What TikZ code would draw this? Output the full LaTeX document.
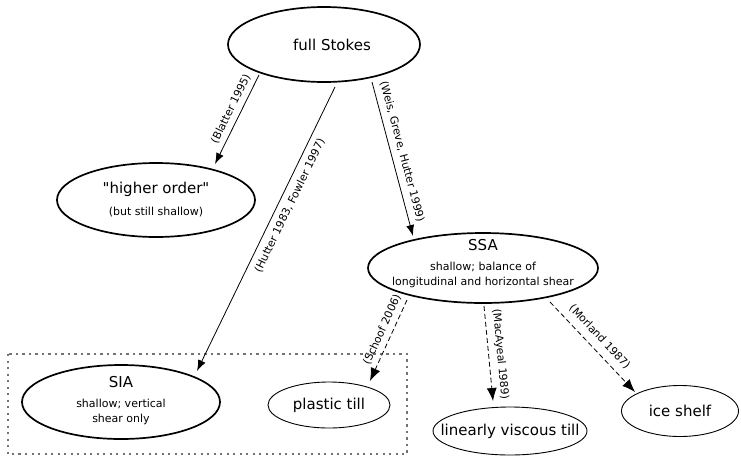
\documentclass[tikz,border=0pt]{standalone}
\usepackage{fontspec}
\setmainfont{DejaVu Sans}
\newfontfamily\dejavu{DejaVu Sans}
\usetikzlibrary{shapes.geometric,arrows.meta,calc}

\newcommand\fbig{\dejavu\fontsize{15}{18}\selectfont}
\newcommand\fsml{\dejavu\fontsize{11}{14}\selectfont}
\newcommand\flab{\dejavu\fontsize{10.8}{12}\selectfont}

\begin{document}
\begin{tikzpicture}[x=1pt,y=-1pt,
  ell/.style={ellipse,draw,inner sep=0pt,outer sep=0pt},
  thickell/.style={ell,line width=1.7pt},
  thinell/.style={ell,line width=0.9pt},
  txt/.style={align=center,font=\fbig,inner sep=0pt},
  conn/.style={line width=0.8pt,-{Latex[length=11pt,width=8pt]}},
  dconn/.style={line width=0.8pt,dash pattern=on 5pt off 3pt,-{Latex[length=13pt,width=10pt]}},
  lab/.style={sloped,font=\flab,inner sep=3pt}
]
\useasboundingbox (0,0) rectangle (741,456);

% grouping box
\draw[gray!90!black, line width=2.2pt, dash pattern=on 2.2pt off 4.3pt] (8,354) rectangle (407,454);

% nodes
\node[thickell, minimum width=192pt, minimum height=75pt,
  label={[txt,xshift=8pt]center:full Stokes}] (fs) at (324,44.5) {};
\node[thickell, minimum width=198pt, minimum height=74pt,
  label={[txt]center:"higher order"\\[4pt]{\fsml (but still shallow)}}] (ho) at (156,200) {};
\node[thickell, minimum width=230pt, minimum height=70pt,
  label={[txt,yshift=4pt]center:SSA\\[2pt]{\fsml shallow; balance of}\\[-3pt]{\fsml longitudinal and horizontal shear}}] (ssa) at (483,268) {};
\node[thickell, minimum width=198pt, minimum height=74pt,
  label={[txt,yshift=1pt]center:SIA\\[2pt]{\fsml shallow; vertical}\\[-3pt]{\fsml shear only}}] (sia) at (121,402) {};
\node[thinell, minimum width=122pt, minimum height=46pt,
  label={[txt]center:plastic till}] (pt) at (329,405) {};
\node[thinell, minimum width=154pt, minimum height=48pt,
  label={[txt]center:linearly viscous till}] (lvt) at (510,431) {};
\node[thinell, minimum width=117pt, minimum height=51pt,
  label={[txt]center:ice shelf}] (is) at (680,411) {};

% connectors
\draw[conn] ($(fs.center)+(-65,30.5)$) -- node[lab,above=2pt,pos=0.43]{(Blatter 1995)} ($(ho.center)+(59,-36)$);
\draw[conn] ($(fs.center)+(11,42.5)$) -- node[lab,below=3pt,pos=0.40]{(Hutter 1983, Fowler 1997)} ($(sia.center)+(76,-31)$);
\draw[conn] ($(fs.center)+(48,37.5)$) -- node[lab,above=3pt,pos=0.47]{(Weis, Greve, Hutter 1999)} ($(ssa.center)+(-70,-32)$);
\draw[dconn] ($(ssa.center)+(-76,32)$) -- node[lab,above=2pt,pos=0.42]{(Schoof 2006)} ($(pt.center)+(41,-24)$);
\draw[dconn] ($(ssa.center)+(1,38)$) -- node[lab,above=3pt,pos=0.52]{(MacAyeal 1989)} ($(lvt.center)+(-17,-30)$);
\draw[dconn] ($(ssa.center)+(67,34)$) -- node[lab,above=4pt,pos=0.48]{(Morland 1987)} ($(is.center)+(-45,-19)$);
\end{tikzpicture}
\end{document}
